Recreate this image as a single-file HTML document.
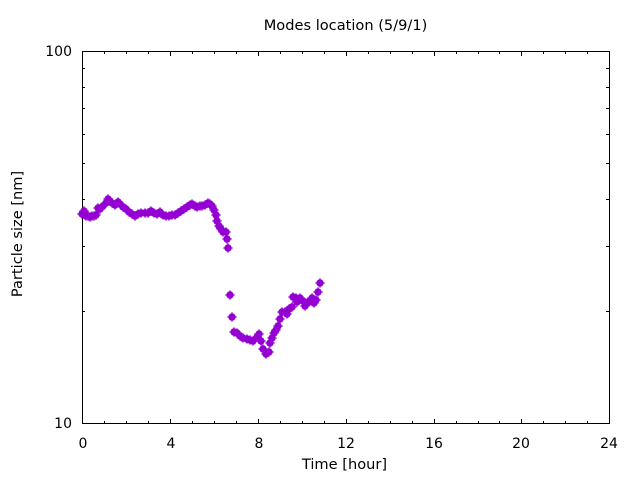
<!DOCTYPE html>
<html><head><meta charset="utf-8"><style>
html,body{margin:0;padding:0;background:#fff;}
svg{display:block;}
text{font-family:"DejaVu Sans","Liberation Sans",sans-serif;font-size:14.6px;fill:#000;}
.t{font-size:14px;}
</style></head><body>
<svg width="640" height="480" viewBox="0 0 640 480" xmlns="http://www.w3.org/2000/svg">
<defs>
<g id="m" fill="#9400d3">
<circle cx="0" cy="0" r="3.7"/>
<rect x="-4.7" y="-0.6" width="9.4" height="1.2"/>
<rect x="-0.6" y="-4.7" width="1.2" height="9.4"/>
</g>
</defs>
<rect width="640" height="480" fill="#fff"/>
<text x="345.5" y="30" text-anchor="middle">Modes location (5/9/1)</text>
<g stroke="#000" stroke-width="1" fill="none" shape-rendering="crispEdges">
<rect x="82.5" y="51.5" width="527" height="372"/>
<path d="M82.5 424v-5M170.5 424v-5M258.5 424v-5M346.5 424v-5M434.5 424v-5M521.5 424v-5M609.5 424v-5
M82.5 51v5M170.5 51v5M258.5 51v5M346.5 51v5M434.5 51v5M521.5 51v5M609.5 51v5"/>
<path d="M104.5 424v-3M126.5 424v-3M148.5 424v-3M192.5 424v-3M214.5 424v-3M236.5 424v-3M280.5 424v-3M302.5 424v-3M324.5 424v-3M368.5 424v-3M390.5 424v-3M412.5 424v-3M456.5 424v-3M478.5 424v-3M499.5 424v-3M543.5 424v-3M565.5 424v-3M587.5 424v-3
M104.5 51v3M126.5 51v3M148.5 51v3M192.5 51v3M214.5 51v3M236.5 51v3M280.5 51v3M302.5 51v3M324.5 51v3M368.5 51v3M390.5 51v3M412.5 51v3M456.5 51v3M478.5 51v3M499.5 51v3M543.5 51v3M565.5 51v3M587.5 51v3"/>
<path d="M82 311.5h3M82 246.5h3M82 199.5h3M82 163.5h3M82 134.5h3M82 108.5h3M82 87.5h3M82 68.5h3
M609 311.5h-3M609 246.5h-3M609 199.5h-3M609 163.5h-3M609 134.5h-3M609 108.5h-3M609 87.5h-3M609 68.5h-3"/>
</g>
<text class="t" x="72" y="56" text-anchor="end">100</text>
<text class="t" x="72" y="428" text-anchor="end">10</text>
<g text-anchor="middle" class="t">
<text class="t" x="83" y="448">0</text>
<text class="t" x="171" y="448">4</text>
<text class="t" x="259" y="448">8</text>
<text class="t" x="346" y="448">12</text>
<text class="t" x="434" y="448">16</text>
<text class="t" x="521" y="448">20</text>
<text class="t" x="609" y="448">24</text>
</g>
<text x="344.5" y="469" text-anchor="middle">Time [hour]</text>
<text transform="translate(22,234) rotate(-90)" text-anchor="middle">Particle size [nm]</text>
<g>
<use href="#m" x="82" y="214"/><use href="#m" x="84" y="211"/><use href="#m" x="86" y="216"/>
<use href="#m" x="88" y="216"/><use href="#m" x="90" y="217"/><use href="#m" x="92" y="216"/>
<use href="#m" x="94" y="216"/><use href="#m" x="96" y="215"/><use href="#m" x="98" y="208"/>
<use href="#m" x="100" y="209"/><use href="#m" x="103" y="206"/><use href="#m" x="106" y="203"/>
<use href="#m" x="108" y="199"/><use href="#m" x="110" y="201"/><use href="#m" x="112" y="203"/>
<use href="#m" x="115" y="205"/><use href="#m" x="118" y="202"/><use href="#m" x="120" y="204"/>
<use href="#m" x="123" y="207"/><use href="#m" x="126" y="209"/><use href="#m" x="129" y="212"/>
<use href="#m" x="132" y="214"/><use href="#m" x="135" y="216"/><use href="#m" x="138" y="214"/>
<use href="#m" x="141" y="213"/><use href="#m" x="145" y="213"/><use href="#m" x="148" y="213"/>
<use href="#m" x="151" y="211"/><use href="#m" x="154" y="213"/><use href="#m" x="157" y="214"/>
<use href="#m" x="160" y="212"/><use href="#m" x="163" y="215"/><use href="#m" x="166" y="216"/>
<use href="#m" x="169" y="216"/><use href="#m" x="172" y="215"/><use href="#m" x="175" y="215"/>
<use href="#m" x="178" y="213"/><use href="#m" x="181" y="211"/><use href="#m" x="184" y="209"/>
<use href="#m" x="187" y="207"/><use href="#m" x="190" y="205"/><use href="#m" x="192" y="204"/>
<use href="#m" x="195" y="206"/><use href="#m" x="197" y="207"/><use href="#m" x="200" y="206"/>
<use href="#m" x="202" y="206"/><use href="#m" x="205" y="205"/><use href="#m" x="208" y="203"/>
<use href="#m" x="210" y="204"/><use href="#m" x="212" y="206"/><use href="#m" x="214" y="210"/>
<use href="#m" x="216" y="215"/><use href="#m" x="217" y="221"/><use href="#m" x="219" y="226"/>
<use href="#m" x="221" y="229"/><use href="#m" x="223" y="232"/><use href="#m" x="226" y="232"/>
<use href="#m" x="227" y="239"/><use href="#m" x="228" y="248"/><use href="#m" x="230" y="295"/>
<use href="#m" x="232" y="317"/><use href="#m" x="234" y="332"/><use href="#m" x="237" y="333"/>
<use href="#m" x="240" y="336"/><use href="#m" x="243" y="338"/><use href="#m" x="247" y="339"/>
<use href="#m" x="250" y="340"/><use href="#m" x="253" y="341"/><use href="#m" x="257" y="337"/>
<use href="#m" x="259" y="334"/><use href="#m" x="261" y="341"/><use href="#m" x="263" y="349"/>
<use href="#m" x="266" y="354"/><use href="#m" x="269" y="352"/><use href="#m" x="270" y="343"/>
<use href="#m" x="272" y="338"/><use href="#m" x="274" y="333"/><use href="#m" x="276" y="330"/>
<use href="#m" x="278" y="326"/><use href="#m" x="280" y="319"/><use href="#m" x="282" y="312"/>
<use href="#m" x="285" y="312"/><use href="#m" x="287" y="314"/><use href="#m" x="289" y="309"/>
<use href="#m" x="292" y="307"/><use href="#m" x="293" y="297"/><use href="#m" x="296" y="298"/>
<use href="#m" x="297" y="302"/><use href="#m" x="300" y="298"/><use href="#m" x="303" y="301"/>
<use href="#m" x="305" y="306"/><use href="#m" x="307" y="303"/><use href="#m" x="310" y="301"/>
<use href="#m" x="312" y="298"/><use href="#m" x="314" y="303"/><use href="#m" x="316" y="300"/>
<use href="#m" x="318" y="292"/><use href="#m" x="320" y="283"/>
</g>
</svg>
</body></html>
